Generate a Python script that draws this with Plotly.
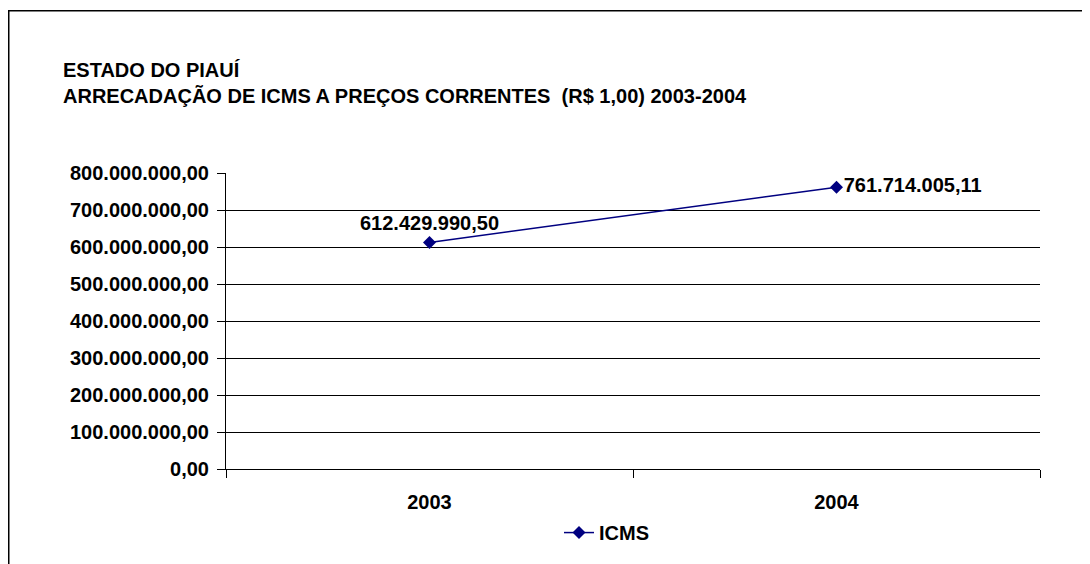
import plotly.graph_objects as go

categories = ["2003", "2004"]
icms_values = [612429990.50, 761714005.11]
label_texts = ["612.429.990,50", "761.714.005,11"]
series_name = "ICMS"
title_lines = ["ESTADO DO PIAUÍ", "ARRECADAÇÃO DE ICMS A PREÇOS CORRENTES  (R$ 1,00) 2003-2004"]

# page body has an 8px margin; figure coordinates = screen - 8
OFF = 8
W, H = 1090 - OFF, 564 - OFF
ML, MT = 226 - OFF, 173 - OFF
PR, PB = 1040 - OFF, 471 - OFF
MR, MB = W - PR, H - PB
PW, PH = PR - ML, PB - MT

def px(x):
    return (x - OFF - ML) / PW

def py(y):
    return (PB - (y - OFF)) / PH

FONT = "Liberation Sans, Arial, sans-serif"
NAVY = "#000080"
FS = 20

fig = go.Figure()
fig.add_trace(go.Scatter(
    x=categories, y=icms_values, name=series_name,
    mode="lines+markers+text",
    line=dict(color=NAVY, width=1.5),
    marker=dict(symbol="diamond", size=10, color=NAVY),
    text=label_texts,
    textposition=["top center", "middle right"],
    textfont=dict(family=FONT, size=FS, color="black", weight="bold"),
    cliponaxis=False,
))

fig.update_layout(
    width=W, height=H,
    margin=dict(l=ML, r=MR, t=MT, b=MB, pad=0),
    paper_bgcolor="white", plot_bgcolor="white",
    separators=",.",
    font=dict(family=FONT, size=FS, color="black", weight="bold"),
    showlegend=True,
    legend=dict(orientation="h", x=px(559), y=py(535), xanchor="left", yanchor="middle",
                font=dict(family=FONT, size=FS, color="black", weight="bold"),
                bgcolor="rgba(0,0,0,0)", itemwidth=30),
    xaxis=dict(type="category", range=[-0.5, 1.5], tickson="boundaries",
               ticks="outside", ticklen=8, tickcolor="black", tickwidth=1,
               ticklabelstandoff=15,
               showline=True, linecolor="black", linewidth=1,
               showgrid=False, zeroline=False,
               tickfont=dict(family=FONT, size=FS, color="black", weight="bold")),
    yaxis=dict(range=[0, 800000000], dtick=100000000, tickformat=",.2f",
               ticks="outside", ticklen=8, tickcolor="black", tickwidth=1,
               ticklabelstandoff=4,
               showline=True, linecolor="black", linewidth=1,
               showgrid=True, gridcolor="black", gridwidth=1, zeroline=False,
               tickfont=dict(family=FONT, size=FS, color="black", weight="bold")),
)

for txt, yy in zip(title_lines, [69, 95]):
    fig.add_annotation(text=txt, xref="paper", yref="paper", x=px(61), y=py(yy),
                       xanchor="left", yanchor="middle", showarrow=False,
                       font=dict(family=FONT, size=FS, color="black", weight="bold"))

fig.add_shape(type="rect", xref="paper", yref="paper",
              x0=px(8.75), x1=px(1200), y0=py(700), y1=py(9.75),
              line=dict(color="black", width=1.5), layer="below")

fig.write_html("out.html")
